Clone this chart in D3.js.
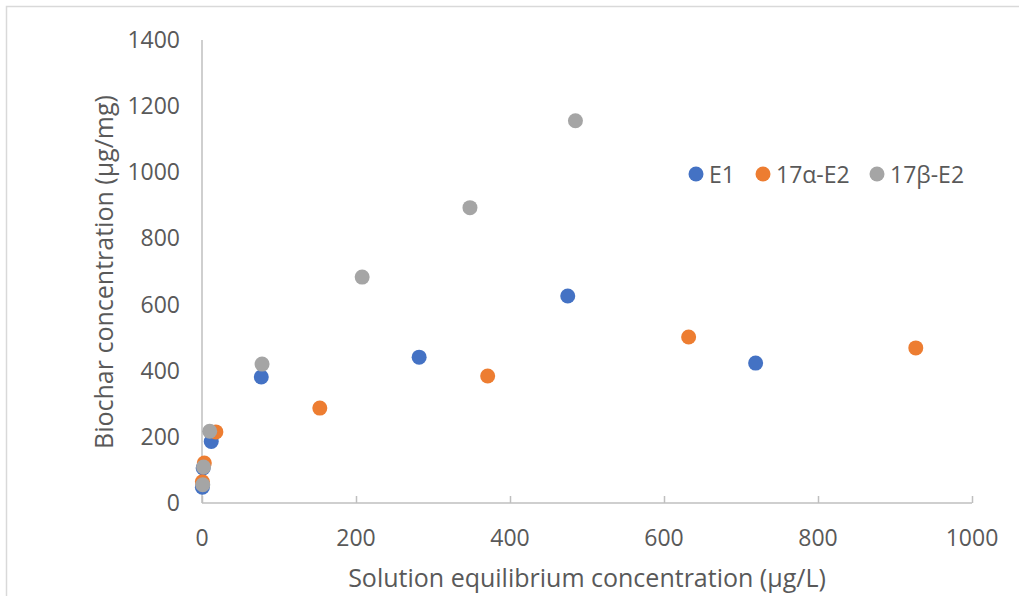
<!DOCTYPE html>
<html>
<head>
<meta charset="utf-8">
<script src="https://cdn.jsdelivr.net/npm/d3@7"></script>
<style>
  body { margin: 0; background: #fff; }
  text { fill: #595959; font-family: 'Open Sans', sans-serif; }
</style>
</head>
<body>
<script>
// data
var seriesNames = ["E1", "17α-E2", "17β-E2"];
var seriesColors = ["#4472C4", "#ED7D31", "#A5A5A5"];
var e1X = [0.5, 1.5, 12, 77, 282, 475, 719];
var e1Y = [48, 106, 186, 381, 441, 626, 423];
var e2aX = [0.5, 3, 18, 153, 371, 632, 927];
var e2aY = [64, 121, 215, 287, 384, 502, 469];
var e2bX = [1, 2, 10, 78, 208, 348, 485];
var e2bY = [55, 109, 217, 420, 683, 893, 1156];
var xTicks = [0, 200, 400, 600, 800, 1000];
var yTicks = [0, 200, 400, 600, 800, 1000, 1200, 1400];

var w = 1019, h = 596;

var svg = d3.select("body")
            .append("svg")
            .attr("width", w)
            .attr("height", h);

// thin frame on the left and top
svg.append("path")
   .attr("d", "M6.5,596 V6.5 H1019")
   .attr("fill", "none")
   .attr("stroke", "#D9D9D9")
   .attr("stroke-width", 1.5);

var x = d3.scaleLinear().domain([0, 1000]).range([202, 972]);
var y = d3.scaleLinear().domain([0, 1400]).range([503, 40]);

// x axis line with small upward ticks
var xAxis = svg.append("g").attr("transform", "translate(0," + y(0) + ")")
               .call(d3.axisBottom(x).tickValues(xTicks).tickSize(-7).tickFormat(""));
xAxis.select(".domain").attr("stroke", "#BFBFBF").attr("stroke-width", 1.5)
     .attr("d", "M" + x(0) + ",0H" + x(1000));
xAxis.selectAll(".tick line").attr("stroke", "#BFBFBF").attr("stroke-width", 1.5);

// y axis line
var yAxis = svg.append("g").attr("transform", "translate(" + x(0) + ",0)")
               .call(d3.axisLeft(y).tickValues(yTicks).tickSize(0).tickFormat(""));
yAxis.select(".domain").attr("stroke", "#BFBFBF").attr("stroke-width", 1.5)
     .attr("d", "M0," + y(1400) + "V" + y(0));

// tick labels
svg.selectAll(".xlab")
   .data(xTicks)
   .enter().append("text")
   .attr("class", "xlab")
   .attr("x", function(d) { return x(d); })
   .attr("y", 546)
   .attr("text-anchor", "middle")
   .style("font-size", "23px")
   .text(function(d) { return d; });

svg.selectAll(".ylab")
   .data(yTicks)
   .enter().append("text")
   .attr("class", "ylab")
   .attr("x", 180)
   .attr("y", function(d) { return y(d) + 8; })
   .attr("text-anchor", "end")
   .style("font-size", "23px")
   .text(function(d) { return d; });

// axis titles
svg.append("text")
   .attr("x", 587)
   .attr("y", 587)
   .attr("text-anchor", "middle")
   .style("font-size", "25px")
   .text("Solution equilibrium concentration (µg/L)");

svg.append("text")
   .attr("transform", "translate(113,272) rotate(-90)")
   .attr("text-anchor", "middle")
   .style("font-size", "25px")
   .text("Biochar concentration (µg/mg)");

// points, drawn series by series so the last one sits on top
var allX = [e1X, e2aX, e2bX];
var allY = [e1Y, e2aY, e2bY];
allX.forEach(function(xs, s) {
  svg.append("g").selectAll("circle")
     .data(xs)
     .enter().append("circle")
     .attr("cx", function(d) { return x(d); })
     .attr("cy", function(d, i) { return y(allY[s][i]); })
     .attr("r", 7.5)
     .attr("fill", seriesColors[s]);
});

// legend
var legendX = [696, 763, 877];
var legend = svg.selectAll(".leg")
                .data(seriesNames)
                .enter().append("g")
                .attr("class", "leg")
                .attr("transform", function(d, i) { return "translate(" + legendX[i] + ",174)"; });
legend.append("circle")
      .attr("r", 7.5)
      .attr("fill", function(d, i) { return seriesColors[i]; });
legend.append("text")
      .attr("x", 13)
      .attr("y", 8.5)
      .style("font-size", "23px")
      .text(function(d) { return d; });
</script>
</body>
</html>
